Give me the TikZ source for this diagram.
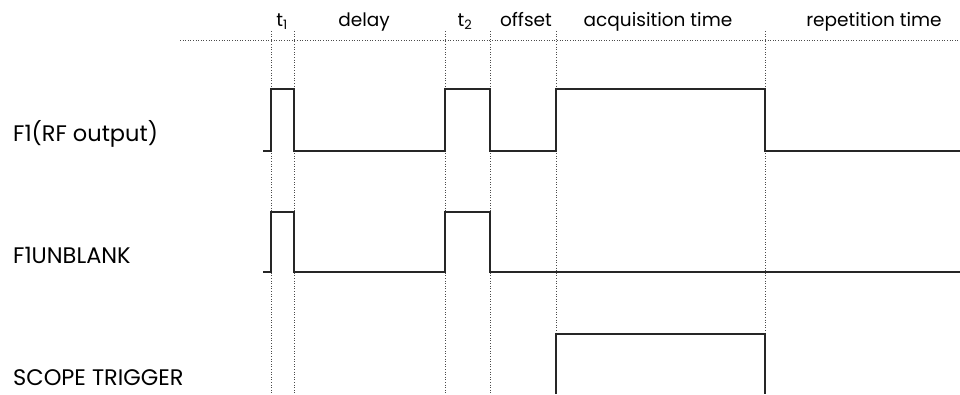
\documentclass[tikz,border=0pt]{standalone}
\usepackage{fontspec}
\setmainfont{Poppins}
\begin{document}
\begin{tikzpicture}[x=1pt,y=-1pt,
  guide/.style={draw=black!70,line width=0.6pt,dotted},
  signal/.style={draw=black!85,line width=1.3pt,line join=miter},
  lbl/.style={font=\fontsize{22.5}{22.5}\selectfont,inner sep=0pt,anchor=base west},
  toplbl/.style={font=\fontsize{18.5}{18.5}\selectfont,inner sep=0pt,anchor=base}]
\useasboundingbox (0,0) rectangle (960,394);
% guides
\draw[guide] (180,40.5) -- (960,40.5);
\foreach \x in {271,294,445,490,556,765}
  \draw[guide] (\x,31) -- (\x,394);
% top labels
\node[toplbl] (t1) at (282,26) {t\textsubscript{1}};
\node[toplbl] (delay) at (364,26) {delay};
\node[toplbl] (t2) at (465,26) {t\textsubscript{2}};
\node[toplbl] (offset) at (526,26) {offset};
\node[toplbl] (acq) at (658,26) {acquisition time};
\node[toplbl] (rep) at (874,26) {repetition time};
% left labels
\node[lbl] (f1) at (13,141) {F1(RF output)};
\node[lbl] (unb) at (13,263) {F1UNBLANK};
\node[lbl] (scope) at (13,385) {SCOPE TRIGGER};
% signals
\draw[signal] (263,151) -- (271,151) -- (271,89) -- (294,89) -- (294,151)
  -- (445,151) -- (445,89) -- (490,89) -- (490,151) -- (556,151) -- (556,89)
  -- (765,89) -- (765,151) -- (960,151);
\draw[signal] (263,272) -- (271,272) -- (271,212) -- (294,212) -- (294,272)
  -- (445,272) -- (445,212) -- (490,212) -- (490,272) -- (960,272);
\draw[signal] (556,394) -- (556,334) -- (765,334) -- (765,394);
\end{tikzpicture}
\end{document}
